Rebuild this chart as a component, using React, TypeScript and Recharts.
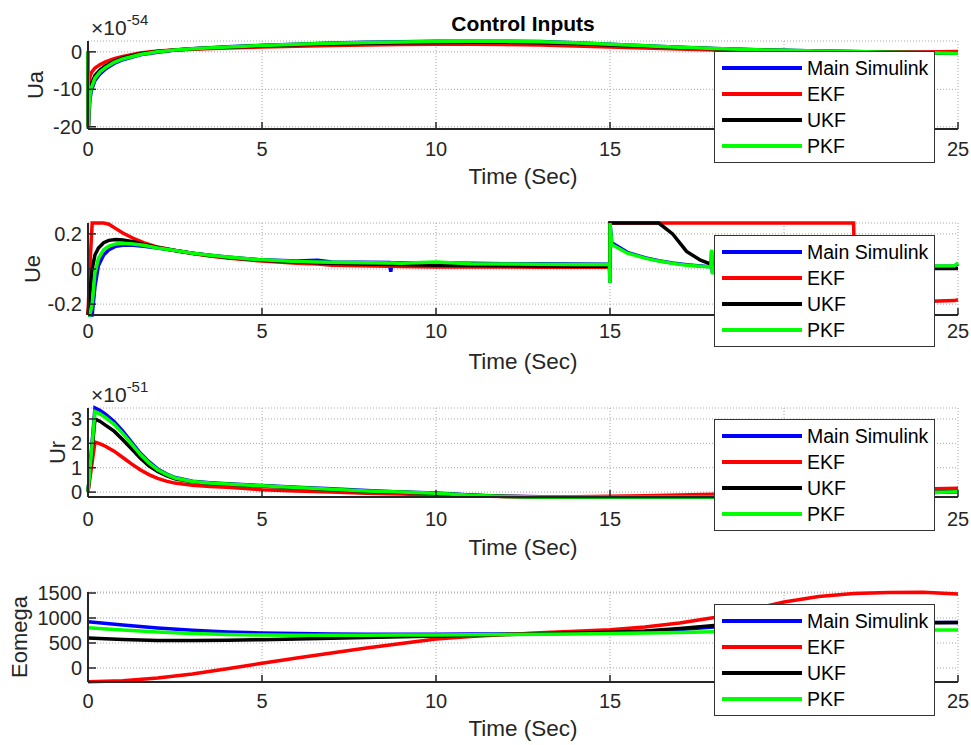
import React from 'react'
import { LineChart, Line, XAxis, YAxis, CartesianGrid, Legend, Label } from 'recharts'

const seriesNames = ['Main Simulink', 'EKF', 'UKF', 'PKF']
const seriesKeys = ['main', 'ekf', 'ukf', 'pkf']
const seriesColors = ['#0000ff', '#ff0000', '#000000', '#00ff00']
const timeTicks = [0, 5, 10, 15, 20, 25]

// Ua, units of 1e-54
const uaTime = [0, 0.01, 0.03, 0.06, 0.1, 0.2, 0.35, 0.5, 0.75, 1, 1.5, 2, 2.5, 3, 4, 5, 6, 7, 8, 9, 10, 11, 12, 13, 14, 15, 16, 17, 18, 19, 20, 21, 22, 23, 24, 25]
const uaMain = [0, -20.5, -16, -12.5, -10.2, -7.6, -5.8, -4.6, -3.1, -2.1, -0.8, -0.1, 0.5, 0.85, 1.35, 1.75, 2.05, 2.35, 2.55, 2.7, 2.8, 2.85, 2.85, 2.75, 2.45, 2.05, 1.65, 1.25, 0.9, 0.6, 0.4, 0.2, 0.1, -0.1, -0.25, -0.35]
const uaEkf = [0, -20, -9, -6.5, -5.5, -4.3, -3.4, -2.7, -1.8, -1.2, -0.3, 0.2, 0.5, 0.7, 1.0, 1.3, 1.5, 1.7, 1.85, 1.95, 2.0, 2.0, 1.95, 1.8, 1.55, 1.3, 1.0, 0.75, 0.5, 0.3, 0.15, 0.05, 0, -0.05, -0.05, 0.1]
const uaUkf = [0, -20, -13, -10, -8.5, -6.3, -4.8, -3.8, -2.5, -1.6, -0.5, 0.1, 0.5, 0.8, 1.2, 1.6, 1.9, 2.1, 2.3, 2.4, 2.5, 2.55, 2.55, 2.45, 2.2, 1.85, 1.5, 1.15, 0.85, 0.55, 0.35, 0.18, 0.05, -0.1, -0.2, -0.3]
const uaPkf = [0, -20.5, -15, -11.5, -9.5, -7, -5.3, -4.2, -2.8, -1.9, -0.7, 0, 0.5, 0.8, 1.3, 1.7, 2.0, 2.3, 2.5, 2.65, 2.75, 2.8, 2.8, 2.7, 2.4, 2.0, 1.6, 1.2, 0.9, 0.6, 0.4, 0.2, 0.1, -0.1, -0.25, -0.35]

// Ue
const ueTime = [0, 0.05, 0.12, 0.2, 0.3, 0.45, 0.6, 0.8, 1, 1.3, 1.6, 2, 2.5, 3, 3.5, 4, 5, 6, 6.6, 7, 8.66, 8.7, 8.74, 9, 10, 11, 12, 13, 14, 14.98, 15, 15, 15.05, 15.5, 16, 16.4, 16.8, 17.2, 17.6, 17.9, 17.92, 17.94, 18, 18.5, 19, 20, 21, 22, 22.05, 23, 24, 24.9, 25]
const ueMain = [-0.262, -0.262, -0.262, -0.1, 0.02, 0.08, 0.11, 0.13, 0.135, 0.135, 0.13, 0.12, 0.105, 0.09, 0.078, 0.068, 0.052, 0.045, 0.05, 0.04, 0.037, -0.015, 0.037, 0.036, 0.035, 0.033, 0.03, 0.03, 0.028, 0.027, -0.08, 0.262, 0.15, 0.095, 0.065, 0.047, 0.034, 0.024, 0.017, 0.013, 0.1, -0.02, 0.013, 0.013, 0.013, 0.013, 0.012, 0.012, 0.012, 0.015, 0.016, 0.017, 0.03]
const ueEkf = [-0.262, 0.0, 0.262, 0.262, 0.262, 0.262, 0.255, 0.23, 0.205, 0.175, 0.15, 0.125, 0.105, 0.088, 0.074, 0.063, 0.045, 0.033, 0.028, 0.022, 0.015, 0.015, 0.015, 0.014, 0.012, 0.012, 0.011, 0.01, 0.01, 0.01, 0.01, 0.262, 0.262, 0.262, 0.262, 0.262, 0.262, 0.262, 0.262, 0.262, 0.262, 0.262, 0.262, 0.262, 0.262, 0.262, 0.262, 0.262, -0.19, -0.19, -0.185, -0.18, -0.175]
const ueUkf = [-0.262, -0.15, 0.0, 0.08, 0.12, 0.15, 0.163, 0.168, 0.165, 0.155, 0.14, 0.122, 0.105, 0.09, 0.077, 0.066, 0.05, 0.04, 0.036, 0.033, 0.026, 0.026, 0.026, 0.025, 0.022, 0.02, 0.018, 0.017, 0.016, 0.016, 0.016, 0.262, 0.262, 0.262, 0.262, 0.262, 0.2, 0.1, 0.05, 0.028, 0.026, 0.025, 0.022, 0.015, 0.01, 0.006, 0.005, 0.004, 0.004, 0.003, 0.003, 0.003, 0.003]
const uePkf = [-0.262, -0.262, -0.2, -0.02, 0.06, 0.11, 0.13, 0.143, 0.146, 0.143, 0.135, 0.12, 0.105, 0.09, 0.078, 0.068, 0.052, 0.043, 0.04, 0.038, 0.034, 0.034, 0.034, 0.033, 0.04, 0.03, 0.028, 0.027, 0.026, 0.026, -0.08, 0.262, 0.14, 0.09, 0.062, 0.045, 0.032, 0.022, 0.015, 0.012, 0.11, -0.03, 0.012, 0.012, 0.012, 0.012, 0.012, 0.012, 0.012, 0.016, 0.017, 0.018, 0.035]

// Ur, units of 1e-51
const urTime = [0, 0.2, 0.35, 0.5, 0.75, 1, 1.25, 1.5, 1.75, 2, 2.25, 2.5, 3, 3.5, 4, 5, 6, 7, 8, 9, 10, 11, 12, 13, 14, 15, 16, 17, 18, 19, 20, 21, 22, 23, 24, 25]
const urMain = [0, 3.45, 3.35, 3.2, 2.9, 2.5, 2.05, 1.6, 1.25, 0.95, 0.75, 0.6, 0.45, 0.38, 0.34, 0.27, 0.2, 0.14, 0.07, 0.01, -0.04, -0.12, -0.17, -0.19, -0.2, -0.2, -0.2, -0.2, -0.2, -0.19, -0.17, -0.14, -0.1, -0.06, -0.02, 0.03]
const urEkf = [0, 2.05, 1.98, 1.88, 1.68, 1.42, 1.16, 0.92, 0.72, 0.56, 0.45, 0.37, 0.28, 0.23, 0.2, 0.1, 0.05, 0.0, -0.05, -0.08, -0.12, -0.16, -0.18, -0.19, -0.19, -0.17, -0.15, -0.12, -0.09, -0.05, -0.02, 0.02, 0.06, 0.1, 0.13, 0.16]
const urUkf = [0, 3.0, 2.9, 2.75, 2.5, 2.15, 1.78, 1.4, 1.08, 0.85, 0.68, 0.55, 0.42, 0.36, 0.32, 0.25, 0.18, 0.11, 0.04, -0.01, -0.06, -0.13, -0.18, -0.2, -0.2, -0.2, -0.2, -0.2, -0.2, -0.19, -0.17, -0.14, -0.11, -0.07, -0.03, 0.02]
const urPkf = [0, 3.3, 3.2, 3.06, 2.78, 2.4, 1.98, 1.55, 1.2, 0.92, 0.73, 0.58, 0.44, 0.37, 0.33, 0.26, 0.19, 0.12, 0.05, 0.0, -0.05, -0.13, -0.18, -0.2, -0.2, -0.2, -0.2, -0.2, -0.2, -0.19, -0.17, -0.14, -0.11, -0.07, -0.03, 0.02]

// Eomega
const eoTime = [0, 1, 2, 3, 4, 5, 6, 7, 8, 9, 10, 11, 12, 13, 14, 15, 16, 17, 18, 19, 20, 21, 22, 23, 24, 25]
const eoMain = [925, 860, 800, 755, 720, 700, 688, 680, 676, 675, 675, 678, 682, 688, 695, 705, 730, 770, 820, 860, 885, 898, 905, 908, 910, 912]
const eoEkf = [-275, -255, -200, -120, -15, 95, 200, 300, 400, 490, 580, 630, 670, 705, 735, 765, 820, 900, 1010, 1160, 1320, 1430, 1490, 1512, 1515, 1480]
const eoUkf = [600, 570, 550, 550, 555, 565, 580, 595, 610, 625, 640, 655, 670, 685, 700, 715, 740, 790, 850, 890, 905, 905, 905, 906, 907, 908]
const eoPkf = [805, 760, 720, 690, 670, 660, 655, 655, 655, 658, 660, 665, 670, 675, 680, 690, 700, 710, 725, 735, 745, 750, 755, 758, 760, 762]

const toRows = (t: number[], a: number[], b: number[], c: number[], d: number[]) =>
  t.map((x, i) => ({ t: x, main: a[i], ekf: b[i], ukf: c[i], pkf: d[i] }))

const INK = '#262626'
const MT = 41
const XH = 66

function LegendBox() {
  return (
    <div style={{ width: 221, height: 112, boxSizing: 'border-box', border: '1px solid #333', background: '#fff', paddingTop: 3 }}>
      {seriesNames.map((n, i) => (
        <div key={n} style={{ height: 26, display: 'flex', alignItems: 'center' }}>
          <span style={{ marginLeft: 7, width: 80, height: 4, background: seriesColors[i] }} />
          <span style={{ marginLeft: 5, fontSize: 19.5, color: '#000' }}>{n}</span>
        </div>
      ))}
    </div>
  )
}

const yTitle = (text: string, bx: number) => (props: any) => {
  const vb = props.viewBox
  const cy = vb.y + vb.height / 2
  return (
    <text x={bx} y={cy} transform={`rotate(-90 ${bx} ${cy})`} textAnchor="middle" fontSize={22} fill={INK}>
      {text}
    </text>
  )
}

type PanelProps = {
  data: any[]
  domain: number[]
  ticks: number[]
  title: string
  titleX: number
  top: number
  plotH: number
  legendTop: number
  tickGap: number
  labelGap: number
  exp?: string
}

function Panel({ data, domain, ticks, title, titleX, top, plotH, legendTop, tickGap, labelGap, exp }: PanelProps) {
  const h = MT + plotH + XH
  return (
    <div style={{ position: 'absolute', left: 0, top, width: 971, height: h }}>
      <LineChart width={971} height={h} data={data} margin={{ top: MT, right: 13, left: 0, bottom: 0 }}>
        <CartesianGrid stroke="#a5a5a5" strokeDasharray="1 2" />
        <XAxis
          dataKey="t"
          type="number"
          domain={[0, 25]}
          ticks={timeTicks}
          interval={0}
          height={XH}
          tickSize={-7}
          tickMargin={tickGap}
          tick={{ fill: INK, fontSize: 20 }}
          axisLine={{ stroke: INK, strokeWidth: 2 }}
          tickLine={{ stroke: INK, strokeWidth: 1.5 }}
        >
          <Label value="Time (Sec)" position="insideBottom" offset={XH - labelGap} fill={INK} fontSize={22.5} />
        </XAxis>
        <YAxis
          type="number"
          domain={domain}
          ticks={ticks}
          interval={0}
          width={88}
          tickSize={-8}
          tickMargin={14}
          tick={{ fill: INK, fontSize: 20 }}
          axisLine={{ stroke: INK, strokeWidth: 2 }}
          tickLine={{ stroke: INK, strokeWidth: 1.5 }}
          label={yTitle(title, titleX)}
        />
        {seriesKeys.map((k, i) => (
          <Line
            key={k}
            dataKey={k}
            name={seriesNames[i]}
            stroke={seriesColors[i]}
            strokeWidth={3.5}
            dot={false}
            activeDot={false}
            type="linear"
            isAnimationActive={false}
          />
        ))}
        <Legend
          layout="vertical"
          align="center"
          verticalAlign="middle"
          wrapperStyle={{ left: 714, top: legendTop, width: 221 }}
          content={LegendBox}
        />
      </LineChart>
      {exp && (
        <div style={{ position: 'absolute', left: 91, top: 17, fontSize: 21, lineHeight: '21px', color: INK, whiteSpace: 'nowrap' }}>
          ×10<span style={{ fontSize: 15, position: 'relative', top: -10 }}>{exp}</span>
        </div>
      )}
    </div>
  )
}

export default function App() {
  return (
    <div
      style={{
        position: 'absolute',
        left: 0,
        top: 0,
        width: 971,
        height: 745,
        background: '#fff',
        fontFamily: 'Arial, "Liberation Sans", Helvetica, sans-serif',
      }}
    >
      <Panel data={toRows(uaTime, uaMain, uaEkf, uaUkf, uaPkf)} domain={[-20.6, 2.9]} ticks={[-20, -10, 0]} title="Ua" titleX={43} top={0} plotH={88} legendTop={51} tickGap={20} labelGap={55} exp="-54" />
      <Panel data={toRows(ueTime, ueMain, ueEkf, ueUkf, uePkf)} domain={[-0.262, 0.262]} ticks={[-0.2, 0, 0.2]} title="Ue" titleX={40} top={182} plotH={92} legendTop={53} tickGap={16} labelGap={54} />
      <Panel data={toRows(urTime, urMain, urEkf, urUkf, urPkf)} domain={[-0.2, 3.45]} ticks={[0, 1, 2, 3]} title="Ur" titleX={65} top={367} plotH={89} legendTop={52} tickGap={22} labelGap={58} exp="-51" />
      <Panel data={toRows(eoTime, eoMain, eoEkf, eoUkf, eoPkf)} domain={[-280, 1520]} ticks={[0, 500, 1000, 1500]} title="Eomega" titleX={27} top={551} plotH={90} legendTop={53} tickGap={19} labelGap={54} />
      <div style={{ position: 'absolute', left: 88, top: 13, width: 870, textAlign: 'center', fontSize: 21, lineHeight: '21px', fontWeight: 'bold', color: '#000' }}>
        Control Inputs
      </div>
    </div>
  )
}
